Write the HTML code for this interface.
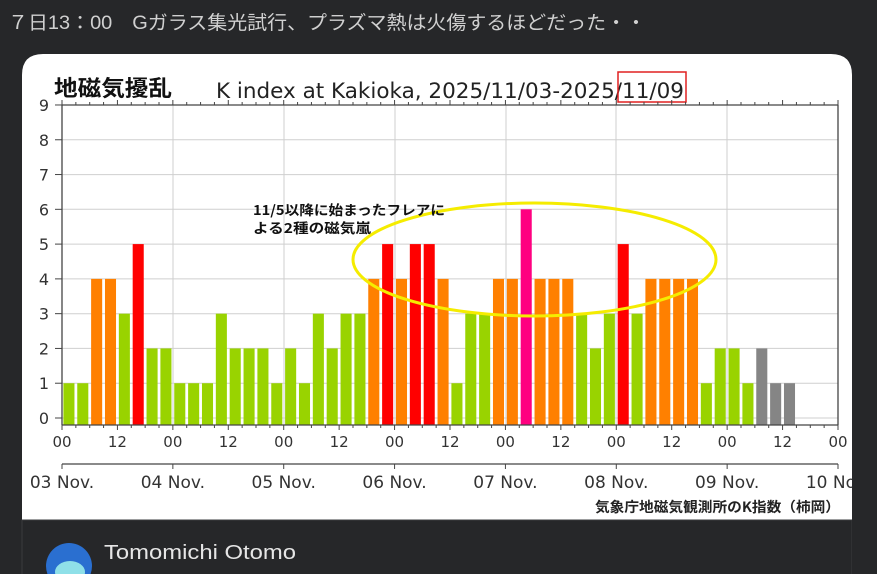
<!DOCTYPE html>
<html><head><meta charset="utf-8"><style>
html,body{margin:0;padding:0;background:#262729;}
svg{display:block;}
</style></head><body>
<svg width="877" height="574" viewBox="0 0 877 574" xmlns="http://www.w3.org/2000/svg">
<rect width="877" height="574" fill="#262729"/>
<text x="8" y="29" textLength="638" lengthAdjust="spacingAndGlyphs" font-family="Liberation Sans, Noto Sans CJK JP, sans-serif" font-size="19" fill="#d0d0d0">７日13：00　Gガラス集光試行、プラズマ熱は火傷するほどだった・・</text>
<path d="M22,520 V75 Q22,54 43,54 H831 Q852,54 852,75 V520 Z" fill="#ffffff"/>
<rect x="22" y="520" width="830" height="60" fill="#262729" stroke="#3a3b3d" stroke-width="1"/>
<text x="54" y="96" textLength="118" lengthAdjust="spacingAndGlyphs" font-family="Noto Sans CJK JP, sans-serif" font-weight="bold" font-size="22" fill="#111">地磁気擾乱</text>
<text x="216" y="98" textLength="468" lengthAdjust="spacingAndGlyphs" font-family="DejaVu Sans, Liberation Sans, sans-serif" font-size="21" fill="#222">K index at Kakioka, 2025/11/03-2025/11/09</text>
<rect x="618" y="72" width="68" height="30" fill="none" stroke="#e02020" stroke-width="1.5"/>
<g id="grid" stroke="#cfcfcf" stroke-width="1">
<line x1="62" x2="838" y1="418" y2="418"/><line x1="62" x2="838" y1="383.2" y2="383.2"/><line x1="62" x2="838" y1="348.4" y2="348.4"/><line x1="62" x2="838" y1="313.7" y2="313.7"/><line x1="62" x2="838" y1="278.9" y2="278.9"/><line x1="62" x2="838" y1="244.1" y2="244.1"/><line x1="62" x2="838" y1="209.3" y2="209.3"/><line x1="62" x2="838" y1="174.6" y2="174.6"/><line x1="62" x2="838" y1="139.8" y2="139.8"/>
<line x1="173" x2="173" y1="105" y2="425"/><line x1="284" x2="284" y1="105" y2="425"/><line x1="395" x2="395" y1="105" y2="425"/><line x1="506" x2="506" y1="105" y2="425"/><line x1="616" x2="616" y1="105" y2="425"/><line x1="727" x2="727" y1="105" y2="425"/>
</g>
<g id="bars"></g>
<g id="axes" stroke="#444" stroke-width="1.3" fill="none">
<line x1="62" y1="105" x2="838" y2="105"/>
<line x1="62" y1="425" x2="838" y2="425"/>
<line x1="62" y1="105" x2="62" y2="425"/>
<line x1="838" y1="105" x2="838" y2="425"/>
<line x1="62" y1="464" x2="838" y2="464"/>
</g>
<g id="ticks" stroke="#444" stroke-width="1"></g>
<g id="labels" font-family="DejaVu Sans, Liberation Sans, sans-serif" fill="#333"></g>
<ellipse cx="534.5" cy="259.5" rx="181.5" ry="56.5" fill="none" stroke="#f5ec00" stroke-width="3"/>
<text x="253" y="215" textLength="192" lengthAdjust="spacingAndGlyphs" font-family="Noto Sans CJK JP, sans-serif" font-weight="bold" font-size="13.5" fill="#111">11/5以降に始まったフレアに</text>
<text x="253" y="233" textLength="118" lengthAdjust="spacingAndGlyphs" font-family="Noto Sans CJK JP, sans-serif" font-weight="bold" font-size="13.5" fill="#111">よる2種の磁気嵐</text>
<text x="595" y="512" textLength="245" lengthAdjust="spacingAndGlyphs" font-family="Noto Sans CJK JP, sans-serif" font-weight="bold" font-size="14" fill="#222">気象庁地磁気観測所のK指数（柿岡）</text>
<circle cx="69" cy="566" r="23" fill="#2a6fd0"/>
<ellipse cx="70" cy="572" rx="15" ry="11" fill="#8fe0e8"/>
<text x="104" y="559" textLength="192" lengthAdjust="spacingAndGlyphs" font-family="Liberation Sans, sans-serif" font-size="20" fill="#e6e6e6">Tomomichi Otomo</text>
<script>
var ns="http://www.w3.org/2000/svg";
var vals=[1,1,4,4,3,5,2,2, 1,1,1,3,2,2,2,1, 2,1,3,2,3,3,4,5, 4,5,5,4,1,3,3,4, 4,6,4,4,4,3,2,3, 5,3,4,4,4,4,1,2, 2,1,2,1,1];
var x0=62,slot=776/56;
function col(v,i){if(i>=50)return "#858585";if(v>=6)return "#ff0080";if(v==5)return "#ff0000";if(v==4)return "#ff8000";return "#99d300";}
var g=document.getElementById("bars");
vals.forEach(function(v,i){var r=document.createElementNS(ns,"rect");var top=418-v*34.78;
r.setAttribute("x",x0+i*slot+1.4);r.setAttribute("width",slot-2.8);r.setAttribute("y",top);r.setAttribute("height",425-top);r.setAttribute("fill",col(v,i));g.appendChild(r);});
var t=document.getElementById("ticks"),l=document.getElementById("labels");
function line(a,b,c,d){var e=document.createElementNS(ns,"line");e.setAttribute("x1",a);e.setAttribute("y1",b);e.setAttribute("x2",c);e.setAttribute("y2",d);t.appendChild(e);}
function txt(x,y,s,sz,anc){var e=document.createElementNS(ns,"text");e.setAttribute("x",x);e.setAttribute("y",y);e.setAttribute("font-size",sz);e.setAttribute("text-anchor",anc||"middle");e.textContent=s;l.appendChild(e);}
for(var i=0;i<=56;i++){var x=x0+i*slot;var big=(i%4==0);line(x,425,x,425+(big?5:3));line(x,105,x,105-(big?5:3));
if(big)txt(x,447,(i%8==0)?"00":"12",15);}
for(var k=0;k<=9;k++){var y=418-k*34.78;line(55,y,62,y);txt(44,y+6,String(k),16,"middle");}
var days=["03 Nov.","04 Nov.","05 Nov.","06 Nov.","07 Nov.","08 Nov.","09 Nov.","10 Nov."];
for(var d=0;d<8;d++){var x=x0+d*776/7;line(x,464,x,469);txt(x,488,days[d],17);}
</script>
<rect x="852" y="0" width="25" height="574" fill="#262729"/>
</svg>
</body></html>
